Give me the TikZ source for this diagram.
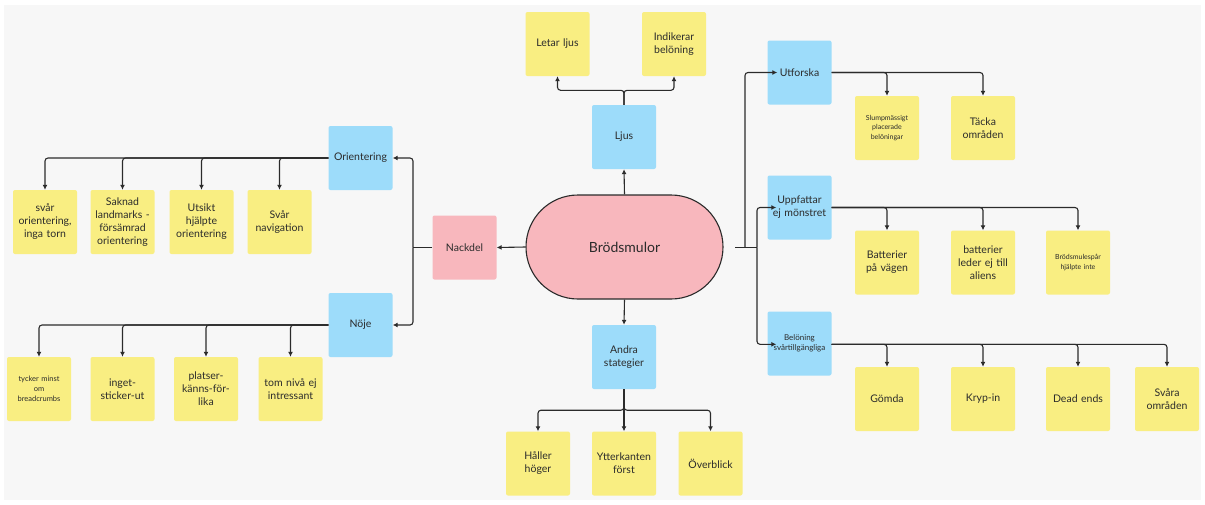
\documentclass[tikz,border=0pt]{standalone}
\usepackage{fontspec}
\setmainfont{Lato}
\usetikzlibrary{arrows.meta}
\definecolor{sticky}{HTML}{F9EE82}
\definecolor{skyb}{HTML}{9DDCFA}
\definecolor{rosa}{HTML}{F8B7BD}
\definecolor{canvas}{HTML}{F7F7F7}
\definecolor{ink}{HTML}{2B2B2B}
\tikzset{
  box/.style={rectangle, rounded corners=2pt, minimum width=64pt, minimum height=64pt,
    text width=62pt, align=center, inner sep=0pt, font=\fontsize{10.5}{13}\selectfont, text=ink},
  note/.style={box, fill=sticky},
  topic/.style={box, fill=skyb},
  minus/.style={box, fill=rosa},
  tiny/.style={font=\fontsize{7.5}{10}\selectfont},
  hub/.style={rectangle, rounded corners=52pt, draw=ink, line width=1.1pt, fill=rosa,
    minimum width=197pt, minimum height=104pt, font=\fontsize{14}{16}\selectfont, text=ink},
  link/.style={draw=ink, line width=1.1pt, rounded corners=3pt},
  arr/.style={link, -{Latex[length=5pt,width=5pt]}},
}
\begin{document}
\begin{tikzpicture}[x=1pt,y=-1pt]
\useasboundingbox (0,0) rectangle (1205,504);
\fill[canvas] (4,5) rectangle (1201,500);

% centre
\node[hub] (bread) at (624.5,247) {Brödsmulor};

% left branch
\node[minus] (nack) at (464.5,247.5) {Nackdel};
\node[topic] (ori) at (360.5,158) {Orientering};
\node[topic] (noje) at (360.5,325) {Nöje};
\node[note] (o1) at (45,222) {svår\\orientering,\\inga torn};
\node[note] (o2) at (122.5,222) {Saknad\\landmarks -\\försämrad\\orientering};
\node[note] (o3) at (201.5,222) {Utsikt\\hjälpte\\orientering};
\node[note] (o4) at (279.5,222) {Svår\\navigation};
\node[note,tiny] (n1) at (39,389) {tycker minst\\om\\breadcrumbs};
\node[note] (n2) at (122.5,389) {inget-\\sticker-ut};
\node[note] (n3) at (206,389) {platser-\\känns-för-\\lika};
\node[note] (n4) at (290.5,389) {tom nivå ej\\intressant};

% top branch
\node[topic] (ljus) at (624,137) {Ljus};
\node[note] (letar) at (557.5,44) {Letar ljus};
\node[note] (indik) at (674,44) {Indikerar\\belöning};

% bottom branch
\node[topic] (andra) at (624,357) {Andra\\stategier};
\node[note] (h1) at (538,463.5) {Håller\\höger};
\node[note] (h2) at (624,463.5) {Ytterkanten\\först};
\node[note] (h3) at (710.5,463.5) {Överblick};

% right branch
\node[topic] (utf) at (799.5,72.5) {Utforska};
\node[note,font=\fontsize{7}{9.5}\selectfont] (s1) at (887,128) {Slumpmässigt\\placerade\\belöningar};
\node[note] (s2) at (983,128) {Täcka\\områden};
\node[topic] (upp) at (799.5,207.5) {Uppfattar\\ej mönstret};
\node[note] (u1) at (887,262.5) {Batterier\\på vägen};
\node[note] (u2) at (983,262.5) {batterier\\leder ej till\\aliens};
\node[note,font=\fontsize{7}{9.5}\selectfont] (u3) at (1078,262.5) {Brödsmulespår\\hjälpte inte};
\node[topic,font=\fontsize{8}{10}\selectfont] (bel) at (799.5,343.5) {Belöning\\svårtillgängliga};
\node[note] (b1) at (887,399) {Gömda};
\node[note] (b2) at (983,399) {Kryp-in};
\node[note] (b3) at (1078,399) {Dead ends};
\node[note] (b4) at (1167,399) {Svåra\\områden};

% junction points
\coordinate (lj) at (413,247.5);
\coordinate (rs) at (735,247.7);
\coordinate (rj) at (757,247.7);
\coordinate (rk) at (745,247.7);

% connectors: centre
\draw[arr] (bread.west) -- (nack.east);
\draw[arr] (bread.north) -- (ljus.south);
\draw[arr] (bread.south) -- (andra.north);

% connectors: left
\draw[link] (nack.west) -- (lj);
\draw[arr] (lj) |- (ori.east);
\draw[arr] (lj) |- (noje.east);
\foreach \c in {o1,o2,o3,o4} \draw[arr] (ori.west) -| (\c.north);
\foreach \c in {n1,n2,n3,n4} \draw[arr] (noje.west) -| (\c.north);

% connectors: top and bottom
\draw[arr] (ljus.north) -- ++(0,-14.5) -| (letar.south);
\draw[arr] (ljus.north) -- ++(0,-14.5) -| (indik.south);
\draw[arr] (andra.south) -- ++(0,21) -| (h1.north);
\draw[arr] (andra.south) -- (h2.north);
\draw[arr] (andra.south) -- ++(0,21) -| (h3.north);

% connectors: right
\draw[link] (rs) -- (rj);
\draw[arr] (rk) |- ([xshift=10pt]utf.west);
\draw[arr] (rj) |- ([xshift=9pt]upp.west);
\draw[arr] (rj) |- ([xshift=9pt,yshift=-0.8pt]bel.west);
\foreach \c in {s1,s2} \draw[arr] (utf.east) -| (\c.north);
\foreach \c in {u1,u2,u3} \draw[arr] (upp.east) -| (\c.north);
\foreach \c in {b1,b2,b3,b4} \draw[arr] ([yshift=-0.8pt]bel.east) -| (\c.north);
\end{tikzpicture}
\end{document}
